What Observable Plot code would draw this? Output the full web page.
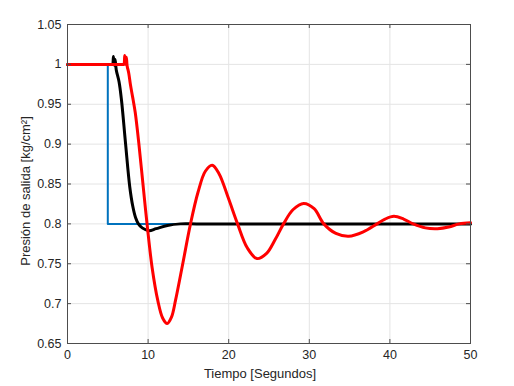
<!DOCTYPE html>
<html><head><meta charset="utf-8">
<script src="https://cdn.jsdelivr.net/npm/d3@7"></script>
<script src="https://cdn.jsdelivr.net/npm/@observablehq/plot@0.6"></script>
<style>
html,body{margin:0;padding:0;background:#fff;}
#chart svg{display:block;}
</style>
</head><body><div id="chart"></div>
<script>
// Reference (blue step)
const blueT = [0, 5, 5, 50];
const blueY = [1.0, 1.0, 0.8, 0.8];

// Black response
const blackT = [0, 3, 5.5, 5.6, 5.7, 5.8, 5.9, 6.05, 6.4, 6.7, 7.2, 7.73, 8.1, 8.44, 8.8, 9.27, 10.1, 11.0, 12.4, 14.0, 16, 20, 30, 40, 50];
const blackY = [1.0, 1.0, 1.0, 1.0, 1.010, 0.999, 1.006, 0.993, 0.978, 0.955, 0.901, 0.846, 0.822, 0.808, 0.800, 0.795, 0.7915, 0.794, 0.798, 0.800, 0.800, 0.800, 0.800, 0.800, 0.800];

// Red response
const redT = [0, 3, 6.9, 7.0, 7.1, 7.2, 7.3, 7.4, 7.6, 7.8, 8.1, 8.4, 8.85, 9.4, 9.9, 10.5, 11.2, 11.8, 12.37, 12.9, 13.4, 14.3, 15.26, 16.2, 17.1, 17.95, 18.8, 19.9, 21.1, 22.3, 23.5, 24.7, 25.8, 26.8, 28.0, 29.3, 30.6, 31.8, 33.3, 34.9, 36.7, 38.4, 39.4, 40.5, 41.7, 42.9, 44.4, 45.9, 47.3, 48.6, 50];
const redY = [1.0, 1.0, 1.0, 1.0, 1.011, 1.0, 1.009, 0.998, 0.989, 0.975, 0.958, 0.940, 0.901, 0.846, 0.797, 0.745, 0.704, 0.682, 0.675, 0.683, 0.704, 0.750, 0.800, 0.840, 0.866, 0.8735, 0.863, 0.834, 0.800, 0.770, 0.7565, 0.763, 0.781, 0.800, 0.818, 0.8255, 0.819, 0.800, 0.788, 0.7845, 0.790, 0.800, 0.806, 0.8095, 0.806, 0.800, 0.795, 0.794, 0.796, 0.800, 0.8015];

// Ticks
const xTicks = [0, 10, 20, 30, 40, 50];
const yTicks = [0.65, 0.7, 0.75, 0.8, 0.85, 0.9, 0.95, 1.0, 1.05];
const yTickLabels = ["0.65", "0.7", "0.75", "0.8", "0.85", "0.9", "0.95", "1", "1.05"];

const xLabel = "Tiempo [Segundos]";
const yLabel = "Presión de salida [kg/cm²]";

const toRows = (T, Y) => T.map((t, i) => ({t, v: Y[i]}));
const blue = toRows(blueT, blueY);
const black = toRows(blackT, blackY);
const red = toRows(redT, redY);
const yLabelMap = new Map(yTicks.map((d, i) => [d, yTickLabels[i]]));

const W = 514, H = 386, mL = 67, mR = 44, mT = 24, mB = 43;
const fw = W - mL - mR, fh = H - mT - mB;
const tick = 4;
const axisColor = "#4d4d4d";

const plot = Plot.plot({
  width: W, height: H,
  marginLeft: mL, marginRight: mR, marginTop: mT, marginBottom: mB,
  style: {fontFamily: '"Liberation Sans", Arial, Helvetica, sans-serif', fontSize: "12.5px", color: "#262626", background: "#fff"},
  x: {domain: [0, 50]},
  y: {domain: [0.65, 1.05]},
  marks: [
    Plot.gridX(xTicks, {stroke: "#e4e4e4", strokeOpacity: 1}),
    Plot.gridY(yTicks, {stroke: "#e4e4e4", strokeOpacity: 1}),
    Plot.line(blue, {x: "t", y: "v", stroke: "#0072bd", strokeWidth: 2}),
    Plot.line(black, {x: "t", y: "v", stroke: "#000", strokeWidth: 3, curve: "catmull-rom"}),
    Plot.line(red, {x: "t", y: "v", stroke: "#ff0000", strokeWidth: 3, curve: "catmull-rom"}),
    Plot.frame({stroke: axisColor}),
    // inward ticks
    Plot.tickX(xTicks, {x: d => d, stroke: axisColor, insetTop: fh - tick}),
    Plot.tickX(xTicks, {x: d => d, stroke: axisColor, insetBottom: fh - tick}),
    Plot.tickY(yTicks, {y: d => d, stroke: axisColor, insetRight: fw - tick}),
    Plot.tickY(yTicks, {y: d => d, stroke: axisColor, insetLeft: fw - tick}),
    Plot.axisX(xTicks, {anchor: "bottom", tickSize: 0, tickPadding: 7, label: null, fill: "#262626"}),
    Plot.axisY(yTicks, {anchor: "left", tickSize: 0, tickPadding: 6, label: null, tickFormat: d => yLabelMap.get(d), fill: "#262626"}),
    Plot.text([xLabel], {frameAnchor: "bottom", text: d => d, textAnchor: "middle", lineAnchor: "middle", dy: 30, dx: -9, fontSize: 13, fill: "#262626"}),
    Plot.text([yLabel], {frameAnchor: "left", text: d => d, textAnchor: "middle", lineAnchor: "middle", rotate: -90, dx: -42, dy: 7, fontSize: 13, fill: "#262626"})
  ]
});
document.getElementById("chart").appendChild(plot);
</script>
</body></html>
